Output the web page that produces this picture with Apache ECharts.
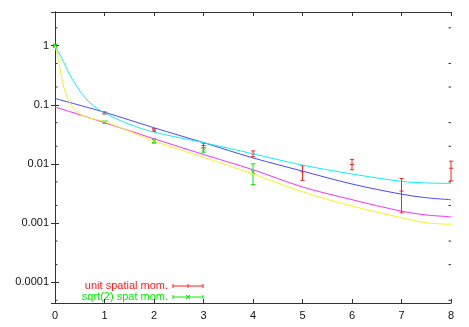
<!DOCTYPE html>
<html>
<head>
<meta charset="utf-8">
<script src="https://cdn.jsdelivr.net/npm/echarts@6/dist/echarts.min.js"></script>
<style>
  html, body { margin: 0; padding: 0; background: #fff; }
  #chart { width: 469px; height: 327px; }
</style>
</head>
<body>
<div id="chart"></div>
<script>
// axis ranges and labels
const xMin = 0, xMax = 8;
const yMin = 4.5e-5, yMax = 3.7;
const yTickLabels = ['0.0001', '0.001', '0.01', '0.1', '1'];
const yMinorTicks = [5e-5, 2e-4, 5e-4, 2e-3, 5e-3, 0.02, 0.05, 0.2, 0.5, 2];

// data points: [t, value, low, high]
const unitSpatial = [
  [0, 1.0, 0.96, 1.04],
  [1, 0.073, 0.070, 0.076],
  [2, 0.0375, 0.0355, 0.0395],
  [3, 0.0206, 0.0188, 0.0225],
  [4, 0.0149, 0.0133, 0.0167],
  [5, 0.0074, 0.0053, 0.0094],
  [6, 0.0098, 0.0080, 0.0120],
  [7, 0.0035, 0.0015, 0.0057],
  [8, 0.0085, 0.0052, 0.0112]
];
const sqrt2Spat = [
  [0, 1.0, 0.95, 1.05],
  [1, 0.051, 0.049, 0.053],
  [2, 0.0245, 0.0225, 0.0268],
  [3, 0.0172, 0.0155, 0.0190],
  [4, 0.0073, 0.0045, 0.0101]
];

// fit curves
const fitBlue = [[0, 0.128], [1, 0.075], [2, 0.041], [3, 0.023], [4, 0.0127], [5, 0.0076], [6, 0.0046], [7, 0.0031], [7.5, 0.0027], [8, 0.0025]];
const fitMagenta = [[0, 0.092], [1, 0.050], [2, 0.0267], [3, 0.0145], [4, 0.0080], [5, 0.0041], [6, 0.0025], [7, 0.0016], [7.5, 0.00138], [8, 0.00129]];
const fitCyan = [[0, 1.0], [0.168, 0.54], [0.30, 0.32], [0.505, 0.17], [0.707, 0.108], [1, 0.073], [1.5, 0.047], [2, 0.0346], [3, 0.023], [4, 0.0149], [5, 0.0096], [6, 0.0068], [7, 0.0051], [7.5, 0.0048], [8, 0.0047]];
const fitYellow = [[0, 1.0], [0.067, 0.58], [0.135, 0.285], [0.236, 0.14], [0.37, 0.089], [0.57, 0.065], [1, 0.052], [2, 0.0245], [3, 0.013], [4, 0.0068], [5, 0.0034], [6, 0.00195], [7, 0.00124], [7.5, 0.00102], [8, 0.00096]];

const FONT = '"Liberation Sans", Arial, sans-serif';
const AXIS_COLOR = '#333';
const RED = '#ff2020';
const GREEN = '#00ee00';

function labelFor(v) {
  const e = Math.round(Math.log10(v));
  return e >= 0 ? String(Math.pow(10, e)) : yTickLabels[e + 4] || '';
}

function errorBarRenderer(color, marker) {
  return function (params, api) {
    const x = api.value(0);
    const p = api.coord([x, api.value(1)]);
    const lo = api.coord([x, api.value(2)]);
    const hi = api.coord([x, api.value(3)]);
    const s = { stroke: color, lineWidth: 1 };
    const cap = 2;
    const m = 2;
    const kids = [
      { type: 'line', shape: { x1: p[0], y1: lo[1], x2: p[0], y2: hi[1] }, style: s },
      { type: 'line', shape: { x1: p[0] - cap, y1: lo[1], x2: p[0] + cap, y2: lo[1] }, style: s },
      { type: 'line', shape: { x1: p[0] - cap, y1: hi[1], x2: p[0] + cap, y2: hi[1] }, style: s }
    ];
    if (marker === 'plus') {
      kids.push({ type: 'line', shape: { x1: p[0] - m, y1: p[1], x2: p[0] + m, y2: p[1] }, style: s });
    } else {
      kids.push({ type: 'line', shape: { x1: p[0] - m, y1: p[1] - m, x2: p[0] + m, y2: p[1] + m }, style: s });
      kids.push({ type: 'line', shape: { x1: p[0] - m, y1: p[1] + m, x2: p[0] + m, y2: p[1] - m }, style: s });
    }
    return { type: 'group', children: kids };
  };
}

function fitSeries(data, color) {
  return {
    type: 'line', data: data, smooth: 0.35,
    showSymbol: false, silent: true,
    lineStyle: { color: color, width: 1 }
  };
}

function legendEntry(y, text, color, marker) {
  const x0 = 173, x1 = 203, xc = 188;
  const s = { stroke: color, lineWidth: 1 };
  const kids = [
    { type: 'text', x: 168, y: y, style: { text: text, fill: color, font: '11px ' + FONT, textAlign: 'right', textVerticalAlign: 'middle' } },
    { type: 'line', shape: { x1: x0, y1: y, x2: x1, y2: y }, style: s },
    { type: 'line', shape: { x1: x0, y1: y - 2, x2: x0, y2: y + 2 }, style: s },
    { type: 'line', shape: { x1: x1, y1: y - 2, x2: x1, y2: y + 2 }, style: s }
  ];
  if (marker === 'plus') {
    kids.push({ type: 'line', shape: { x1: xc, y1: y - 2, x2: xc, y2: y + 2 }, style: s });
  } else {
    kids.push({ type: 'line', shape: { x1: xc - 2, y1: y - 2, x2: xc + 2, y2: y + 2 }, style: s });
    kids.push({ type: 'line', shape: { x1: xc - 2, y1: y + 2, x2: xc + 2, y2: y - 2 }, style: s });
  }
  return { type: 'group', children: kids };
}

const chart = echarts.init(document.getElementById('chart'), null, { renderer: 'canvas' });

const option = {
  animation: false,
  backgroundColor: '#fff',
  grid: { left: 55, right: 18, top: 12, bottom: 24 },
  xAxis: [
    {
      type: 'value', min: xMin, max: xMax, interval: 1, position: 'bottom',
      axisLine: { lineStyle: { color: AXIS_COLOR } },
      axisTick: { inside: true, length: 4, lineStyle: { color: AXIS_COLOR } },
      axisLabel: { color: '#111', fontFamily: FONT, fontSize: 11, margin: 7 },
      splitLine: { show: false }
    },
    {
      type: 'value', min: xMin, max: xMax, interval: 1, position: 'top',
      axisLine: { lineStyle: { color: AXIS_COLOR } },
      axisTick: { inside: true, length: 4, lineStyle: { color: AXIS_COLOR } },
      axisLabel: { show: false },
      splitLine: { show: false }
    }
  ],
  yAxis: [
    {
      type: 'log', logBase: 10, min: yMin, max: yMax, position: 'left',
      axisLine: { lineStyle: { color: AXIS_COLOR } },
      axisTick: { inside: true, length: 4, lineStyle: { color: AXIS_COLOR } },
      axisLabel: {
        color: '#111', fontFamily: FONT, fontSize: 11, margin: 6,
        showMinLabel: false, showMaxLabel: false,
        formatter: labelFor
      },
      splitLine: { show: false }
    },
    {
      type: 'log', logBase: 10, min: yMin, max: yMax, position: 'right',
      axisLine: { lineStyle: { color: AXIS_COLOR } },
      axisTick: { inside: true, length: 4, lineStyle: { color: AXIS_COLOR } },
      axisLabel: { show: false },
      splitLine: { show: false }
    }
  ],
  series: [
    {
      type: 'custom', clip: false, silent: true,
      data: unitSpatial, renderItem: errorBarRenderer(RED, 'plus')
    },
    {
      type: 'custom', clip: false, silent: true,
      data: sqrt2Spat, renderItem: errorBarRenderer(GREEN, 'cross')
    },
    fitSeries(fitBlue, '#4a4aff'),
    fitSeries(fitMagenta, '#ff30ff'),
    fitSeries(fitCyan, '#10f0f8'),
    fitSeries(fitYellow, '#f4f420'),
    {
      // minor log ticks on left and right borders
      type: 'custom', clip: false, silent: true,
      data: yMinorTicks.map(v => [v]),
      renderItem: function (params, api) {
        const v = api.value(0);
        const a = api.coord([xMin, v]);
        const b = api.coord([xMax, v]);
        const s = { stroke: AXIS_COLOR, lineWidth: 1 };
        return {
          type: 'group', children: [
            { type: 'line', shape: { x1: a[0], y1: a[1], x2: a[0] + 2.5, y2: a[1] }, style: s },
            { type: 'line', shape: { x1: b[0], y1: b[1], x2: b[0] - 2.5, y2: b[1] }, style: s }
          ]
        };
      },
      encode: { y: 0 }
    }
  ],
  graphic: [
    legendEntry(286, 'unit spatial mom.', RED, 'plus'),
    legendEntry(297, 'sqrt(2) spat mom.', GREEN, 'cross')
  ]
};

chart.setOption(option);
</script>
</body>
</html>
